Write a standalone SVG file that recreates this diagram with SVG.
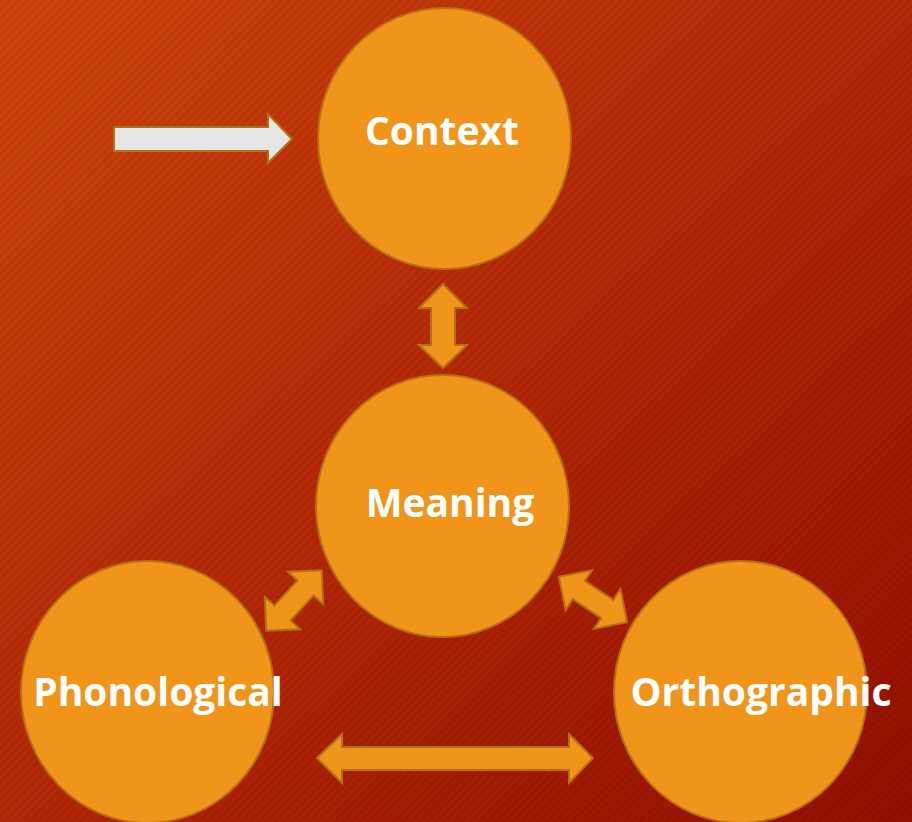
<svg xmlns="http://www.w3.org/2000/svg" width="912" height="822" viewBox="0 0 912 822">
  <defs>
    <linearGradient id="bg" x1="0" y1="0" x2="1" y2="1">
      <stop offset="0" stop-color="#D0450D"/>
      <stop offset="0.5" stop-color="#B42806"/>
      <stop offset="1" stop-color="#940F00"/>
    </linearGradient>
    <pattern id="stripes" width="6" height="6" patternUnits="userSpaceOnUse" patternTransform="rotate(45)">
      <rect x="0" y="0" width="3" height="6" fill="#000" fill-opacity="0.06"/>
    </pattern>
    <style>
      .node { fill: #F0941A; stroke: #B8700F; stroke-width: 2; }
      .label { fill: #FFFFFF; font-family: "Open Sans", "DejaVu Sans", sans-serif; font-weight: bold; font-size: 39px; text-anchor: middle; }
      .arrow { fill: #F0941A; stroke: #B5700F; stroke-width: 2; stroke-linejoin: miter; }
      .arrow-in { fill: #E6E6E6; stroke: #B5700F; stroke-width: 2; }
    </style>
    <!-- double-headed arrow, centred on origin, pointing along x -->
    <polygon id="dbl" points="-41,0 -17,-24 -17,-11 17,-11 17,-24 41,0 17,24 17,11 -17,11 -17,24"/>
  </defs>

  <!-- background -->
  <rect width="912" height="822" fill="url(#bg)"/>
  <rect width="912" height="822" fill="url(#stripes)"/>

  <!-- connectors -->
  <g id="connectors">
    <polygon class="arrow-in" points="114,127 268,127 268,114 292,139 268,163 268,151 114,151"/>
    <polygon class="arrow" points="443,284 467,308 455,308 455,345 467,345 443,368 419,345 431,345 431,308 419,308"/>
    <polygon class="arrow" points="317,758 342,734 342,747 569,747 569,734 593,758 569,783 569,770 342,770 342,783"/>
    <use href="#dbl" class="arrow" transform="translate(294,600.5) rotate(-47.4)"/>
    <use href="#dbl" class="arrow" transform="translate(593,599.5) rotate(33.6)"/>
  </g>

  <!-- nodes -->
  <g id="node-context">
    <ellipse class="node" cx="444.5" cy="138.5" rx="126.5" ry="130.5"/>
    <text class="label" x="442" y="145">Context</text>
  </g>
  <g id="node-meaning">
    <ellipse class="node" cx="442.5" cy="506" rx="126.5" ry="131"/>
    <text class="label" x="450" y="517">Meaning</text>
  </g>
  <g id="node-phonological">
    <ellipse class="node" cx="147.5" cy="692" rx="126.5" ry="131"/>
    <text class="label" x="158" y="706">Phonological</text>
  </g>
  <g id="node-orthographic">
    <ellipse class="node" cx="740.5" cy="692" rx="126.5" ry="131"/>
    <text class="label" x="761" y="706">Orthographic</text>
  </g>
</svg>
